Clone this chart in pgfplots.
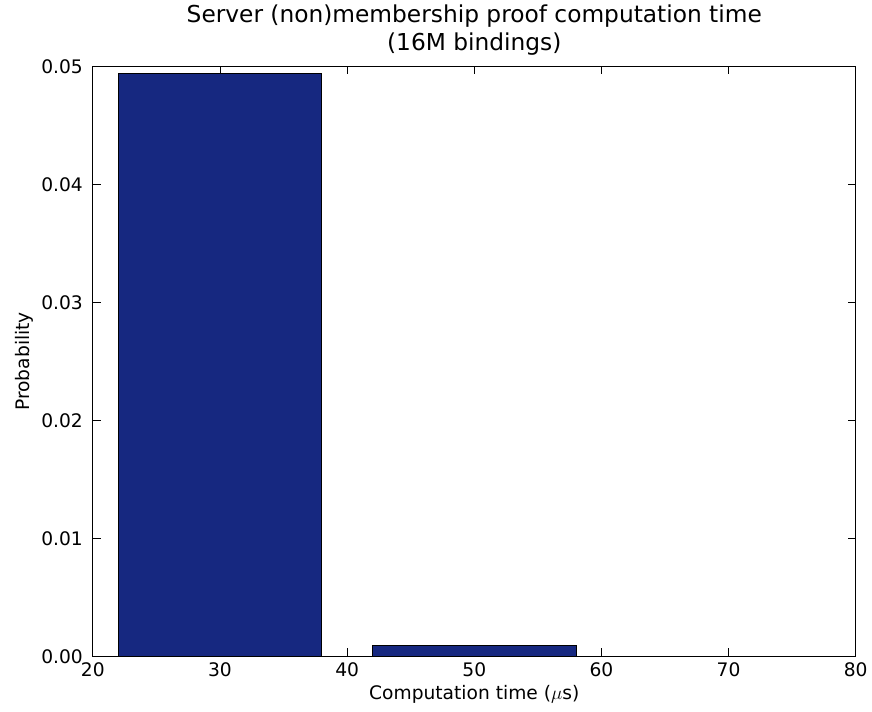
\documentclass[border=0pt]{standalone}
\usepackage{pgfplots}
\pgfplotsset{compat=1.18}
\usepackage{fontspec}
\setmainfont{DejaVu Sans}
\definecolor{barblue}{RGB}{22,40,128}
\begin{document}
\begin{tikzpicture}
\begin{axis}[
  scale only axis,
  width=573pt, height=443.25pt,
  xmin=20, xmax=80, ymin=0, ymax=0.05,
  xtick={20,30,...,80},
  ytick={0,0.01,0.02,0.03,0.04,0.05},
  yticklabel style={xshift=-4pt, /pgf/number format/fixed, /pgf/number format/fixed zerofill, /pgf/number format/precision=2},
  /pgf/number format/assume math mode=true,
  scaled y ticks=false,
  tick align=inside,
  major tick length=6pt,
  tick style={black, line width=0.6pt},
  axis line style={line width=0.8pt},
  ticklabel style={font=\fontsize{14}{16}\selectfont},
  xticklabel style={yshift=-1pt},
  label style={font=\fontsize{14}{16}\selectfont},
  title style={font=\fontsize{17.5}{21}\selectfont, align=center, yshift=-1pt},
  title={Server (non)membership proof computation time\\(16M bindings)},
  xlabel={Computation time ($\mu$s)},
  ylabel={Probability},
  xlabel style={yshift=0pt},
  ylabel style={yshift=-1pt},
]
\addplot[ybar, bar width=16, bar shift=0pt, fill=barblue, draw=black, line width=0.5pt]
  coordinates {(30,0.04940) (50,0.00090)};
\coordinate (bl) at (rel axis cs:0,0);
\coordinate (tr) at (rel axis cs:1,1);
\end{axis}
\path ([shift={(-69.75pt,-41.25pt)}]bl) rectangle ([shift={(11.25pt,48.75pt)}]tr);
\end{tikzpicture}
\end{document}
